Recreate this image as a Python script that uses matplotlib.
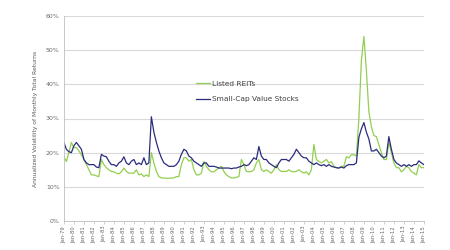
import matplotlib
matplotlib.use('Agg')
import matplotlib.pyplot as plt
import pandas as pd

# Quarterly values (Jan, Apr, Jul, Oct) from Jan-79 to Jan-15, in %
years = list(range(1979, 2016))
dates = pd.date_range('1979-01-01', '2015-01-01', freq='QS')

reits = [
    18.8, 17.4, 20.0, 23.0,   # 1979
    21.5, 21.5, 20.5, 19.4,   # 1980
    18.0, 16.5, 15.0, 13.5,   # 1981
    13.5, 13.2, 13.0, 18.0,   # 1982
    16.5, 15.6, 15.0, 14.5,   # 1983
    14.4, 14.0, 13.8, 14.4,   # 1984
    15.5, 14.5, 14.0, 14.0,   # 1985
    14.0, 15.0, 13.5, 13.8,   # 1986
    13.0, 13.5, 13.0, 20.0,   # 1987
    17.0, 14.5, 13.0, 12.6,   # 1988
    12.6, 12.5, 12.5, 12.6,   # 1989
    12.6, 13.0, 13.0, 16.5,   # 1990
    18.5, 18.5, 17.5, 18.0,   # 1991
    15.0, 13.5, 13.5, 14.0,   # 1992
    17.4, 16.0, 15.0, 14.4,   # 1993
    14.4, 15.0, 15.5, 16.0,   # 1994
    14.5, 13.5, 13.0, 12.6,   # 1995
    12.6, 12.8, 13.0, 18.0,   # 1996
    16.5, 14.5, 14.4, 14.5,   # 1997
    15.0, 17.0, 18.0, 15.0,   # 1998
    14.5, 15.0, 14.5, 14.0,   # 1999
    15.0, 16.5, 15.0, 14.5,   # 2000
    14.5, 14.5, 15.0, 14.5,   # 2001
    14.4, 14.5, 15.0, 14.4,   # 2002
    14.0, 14.4, 13.5, 15.0,   # 2003
    22.4, 18.0, 17.4, 17.0,   # 2004
    17.5, 18.0, 17.0, 17.4,   # 2005
    16.0, 15.6, 15.5, 16.0,   # 2006
    16.0, 18.8, 18.5, 19.4,   # 2007
    19.4, 19.0, 30.0, 47.0,   # 2008
    54.0, 44.0, 32.0, 27.6,   # 2009
    25.0, 24.7, 22.4, 20.0,   # 2010
    18.0, 18.0, 23.0, 20.0,   # 2011
    17.0, 15.6, 15.6, 14.4,   # 2012
    15.0, 16.0, 15.6, 14.5,   # 2013
    14.0, 13.5, 16.5, 15.6,   # 2014
    15.6,                     # 2015
]

small_cap = [
    23.0, 21.0, 20.3, 20.0,   # 1979
    22.0, 23.0, 22.0, 21.0,   # 1980
    18.0, 17.0, 16.5, 16.5,   # 1981
    16.5, 15.8, 15.6, 19.5,   # 1982
    19.0, 18.8, 17.5, 16.5,   # 1983
    16.5, 16.0, 17.0, 17.5,   # 1984
    18.8, 17.0, 16.5, 17.5,   # 1985
    18.0, 16.5, 17.0, 16.5,   # 1986
    18.5, 16.5, 17.0, 30.5,   # 1987
    26.0, 23.0, 20.5, 18.5,   # 1988
    17.0, 16.5, 16.0, 16.0,   # 1989
    16.0, 16.5, 17.5, 19.5,   # 1990
    21.0, 20.5, 19.0, 18.5,   # 1991
    17.5, 17.0, 16.5, 16.0,   # 1992
    17.0, 17.0, 16.0, 16.0,   # 1993
    16.0, 15.8, 15.5, 15.5,   # 1994
    15.5, 15.5, 15.5, 15.3,   # 1995
    15.5, 15.5, 15.8, 16.0,   # 1996
    16.5, 16.2, 16.5, 17.5,   # 1997
    18.5, 18.0, 21.8, 19.0,   # 1998
    18.0, 18.0, 17.0, 16.5,   # 1999
    16.0, 15.6, 17.0, 18.0,   # 2000
    18.0, 18.0, 17.5, 18.5,   # 2001
    19.5, 21.0, 20.0, 19.0,   # 2002
    18.5, 18.5, 17.5, 17.0,   # 2003
    16.5, 17.0, 16.5, 16.2,   # 2004
    16.5, 16.0, 16.5, 16.0,   # 2005
    15.8, 15.6, 15.5, 15.8,   # 2006
    15.5, 16.2, 16.5, 16.5,   # 2007
    16.5, 17.0, 24.5, 27.0,   # 2008
    28.8, 26.0, 24.0, 20.5,   # 2009
    20.5, 21.0, 20.0, 19.0,   # 2010
    18.5, 19.0, 24.7, 21.0,   # 2011
    18.0, 17.0, 16.5, 16.0,   # 2012
    16.5, 16.0, 16.5, 16.0,   # 2013
    16.5, 16.5, 17.6, 17.0,   # 2014
    16.5,                     # 2015
]

tick_dates = pd.to_datetime([f'{y}-01-01' for y in years])
tick_labels = [f'Jan-{y % 100:02d}' for y in years]
y_ticks = [0, 10, 20, 30, 40, 50, 60]

fig = plt.figure(figsize=(4.5, 2.5), dpi=100)
ax = fig.add_axes([0.142, 0.116, 0.8, 0.82])

ax.plot(dates, reits, color='#92CF50', linewidth=0.9, label='Listed REITs')
ax.plot(dates, small_cap, color='#2B2C7E', linewidth=0.9, label='Small-Cap Value Stocks')

ax.set_xlim(tick_dates[0], tick_dates[-1])
ax.set_ylim(0, 60)
ax.set_yticks(y_ticks)
ax.set_yticklabels([f'{v}%' for v in y_ticks], fontsize=4.5, color='#6A6A6A')
ax.set_xticks(tick_dates)
ax.set_xticklabels(tick_labels, rotation=90, fontsize=3.8, color='#6A6A6A')
ax.tick_params(axis='y', length=0, pad=3)
ax.tick_params(axis='x', length=2, width=0.5, color='#BFBFBF', pad=1.5)

ax.grid(axis='y', color='#D9D9D9', linewidth=0.8)
ax.set_axisbelow(True)
for side in ['top', 'right']:
    ax.spines[side].set_visible(False)
ax.spines['left'].set_color('#BFBFBF')
ax.spines['bottom'].set_color('#BFBFBF')
ax.spines['left'].set_linewidth(0.6)
ax.spines['bottom'].set_linewidth(0.6)

ax.set_ylabel('Annualized Volatility of Monthly Total Returns', fontsize=4.3,
              color='#595959', labelpad=6)

ax.legend(loc='upper left', bbox_to_anchor=(0.358, 0.70), frameon=False,
          fontsize=5.3, handlelength=2.0, handletextpad=0.15, labelspacing=1.3,
          borderaxespad=0, labelcolor='#404040')

fig.savefig('out.png', dpi=100)
